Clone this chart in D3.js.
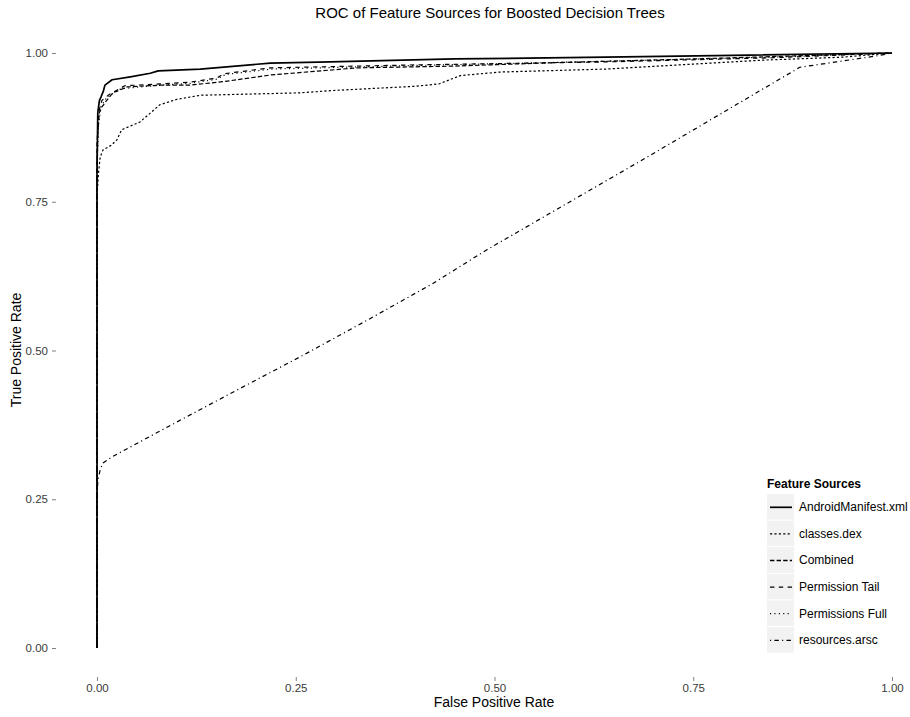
<!DOCTYPE html>
<html>
<head>
<meta charset="utf-8">
<script src="https://cdn.jsdelivr.net/npm/d3@7"></script>
<style>
  body { margin: 0; background: #fff; }
  text { font-family: "Liberation Sans", Arial, sans-serif; }
</style>
</head>
<body>
<div id="chart"></div>
<script>
// ROC curves, [false positive rate, true positive rate]
var androidManifest = [[0,0],[0,0.80],[0.001,0.90],[0.003,0.92],[0.005,0.926],[0.008,0.936],[0.01,0.946],
  [0.019,0.955],[0.042,0.960],[0.067,0.966],[0.077,0.970],[0.13,0.973],[0.218,0.983],[0.293,0.985],
  [0.45,0.990],[0.64,0.993],[0.8,0.996],[1,1]];
var classesDex = [[0,0],[0,0.76],[0.002,0.80],[0.004,0.825],[0.0075,0.837],[0.018,0.845],[0.025,0.854],
  [0.031,0.871],[0.054,0.884],[0.067,0.899],[0.079,0.913],[0.1,0.922],[0.13,0.929],[0.255,0.933],
  [0.297,0.937],[0.40,0.944],[0.43,0.948],[0.457,0.962],[0.507,0.968],[0.64,0.973],[0.838,0.988],
  [0.938,0.993],[1,1]];
var combined = [[0,0],[0,0.85],[0.003,0.90],[0.006,0.909],[0.012,0.92],[0.02,0.933],[0.038,0.943],
  [0.08,0.946],[0.117,0.946],[0.16,0.952],[0.218,0.963],[0.327,0.975],[0.45,0.978],[0.58,0.984],
  [0.75,0.990],[0.9,0.996],[1,1]];
var permissionTail = [[0,0],[0,0.82],[0.002,0.90],[0.006,0.92],[0.015,0.93],[0.035,0.945],[0.08,0.948],
  [0.117,0.951],[0.151,0.958],[0.159,0.965],[0.218,0.975],[0.4,0.980],[0.64,0.985],[0.85,0.992],[1,1]];
var permissionsFull = [[0,0],[0,0.80],[0.002,0.88],[0.005,0.91],[0.012,0.925],[0.03,0.940],[0.08,0.946],
  [0.117,0.949],[0.151,0.956],[0.162,0.964],[0.22,0.973],[0.4,0.979],[0.64,0.986],[0.85,0.993],[1,1]];
var resourcesArsc = [[0,0],[0,0.25],[0.001,0.28],[0.004,0.30],[0.0075,0.311],[0.02,0.322],[0.088,0.371],
  [0.164,0.425],[0.255,0.489],[0.34,0.551],[0.423,0.613],[0.49,0.669],[0.692,0.825],[0.884,0.976],
  [0.93,0.985],[0.98,0.995],[1,1]];

var seriesNames = ["AndroidManifest.xml", "classes.dex", "Combined", "Permission Tail", "Permissions Full", "resources.arsc"];
var seriesData = [androidManifest, classesDex, combined, permissionTail, permissionsFull, resourcesArsc];
var dashes = ["none", "2.2,2.2", "4.4,2.2", "4.4,4.4", "1.1,3.3", "1.1,3.3,4.4,3.3"];
var tickValues = [0, 0.25, 0.5, 0.75, 1];

var width = 910, height = 717;

var svg = d3.select("#chart").append("svg")
    .attr("width", width)
    .attr("height", height);

var x = d3.scaleLinear().domain([0, 1]).range([97, 892]);
var y = d3.scaleLinear().domain([0, 1]).range([648, 53]);

// axes
var yAxis = svg.append("g")
    .attr("transform", "translate(56,0)")
    .call(d3.axisLeft(y).tickValues(tickValues).tickFormat(d3.format(".2f")).tickSize(4).tickPadding(4));
var xAxis = svg.append("g")
    .attr("transform", "translate(0,677)")
    .call(d3.axisBottom(x).tickValues(tickValues).tickFormat(d3.format(".2f")).tickSize(4).tickPadding(3));
[xAxis, yAxis].forEach(function(a){
    a.select(".domain").remove();
    a.selectAll("line").attr("stroke", "#808080");
    a.selectAll("text").attr("fill", "#3a3a3a").style("font-size", "11.5px");
});

// curves
var line = d3.line()
    .x(function(d){ return x(d[0]); })
    .y(function(d){ return y(d[1]); });

var order = [5, 1, 4, 3, 2, 0];
order.forEach(function(i){
    svg.append("path")
        .datum(seriesData[i])
        .attr("d", line)
        .attr("fill", "none")
        .attr("stroke", "#000")
        .attr("stroke-width", i === 0 ? 1.7 : 1.2)
        .attr("stroke-dasharray", dashes[i])
        .attr("stroke-linecap", "butt")
        .attr("stroke-linejoin", "round");
});

// titles
svg.append("text")
    .attr("x", 490).attr("y", 18)
    .attr("text-anchor", "middle")
    .style("font-size", "15px")
    .text("ROC of Feature Sources for Boosted Decision Trees");
svg.append("text")
    .attr("x", 494).attr("y", 707)
    .attr("text-anchor", "middle")
    .style("font-size", "14px")
    .text("False Positive Rate");
svg.append("text")
    .attr("transform", "translate(21,350) rotate(-90)")
    .attr("text-anchor", "middle")
    .style("font-size", "14px")
    .text("True Positive Rate");

// legend
var legend = svg.append("g").attr("transform", "translate(767,488)");
legend.append("text")
    .attr("x", 0).attr("y", 0)
    .style("font-size", "12px")
    .style("font-weight", "bold")
    .text("Feature Sources");
var keyH = 26.6;
var keys = legend.selectAll(".key")
    .data(seriesNames)
    .enter().append("g")
    .attr("class", "key")
    .attr("transform", function(d, i){ return "translate(0," + (6 + i * keyH) + ")"; });
keys.append("rect")
    .attr("width", 27).attr("height", keyH - 1)
    .attr("fill", "#f2f2f2");
keys.append("line")
    .attr("x1", 3).attr("x2", 25)
    .attr("y1", keyH / 2).attr("y2", keyH / 2)
    .attr("stroke", "#000")
    .attr("stroke-width", function(d, i){ return i === 0 ? 1.7 : 1.3; })
    .attr("stroke-dasharray", function(d, i){ return dashes[i]; });
keys.append("text")
    .attr("x", 32).attr("y", keyH / 2 + 4)
    .style("font-size", "12px")
    .text(function(d){ return d; });
</script>
</body>
</html>
